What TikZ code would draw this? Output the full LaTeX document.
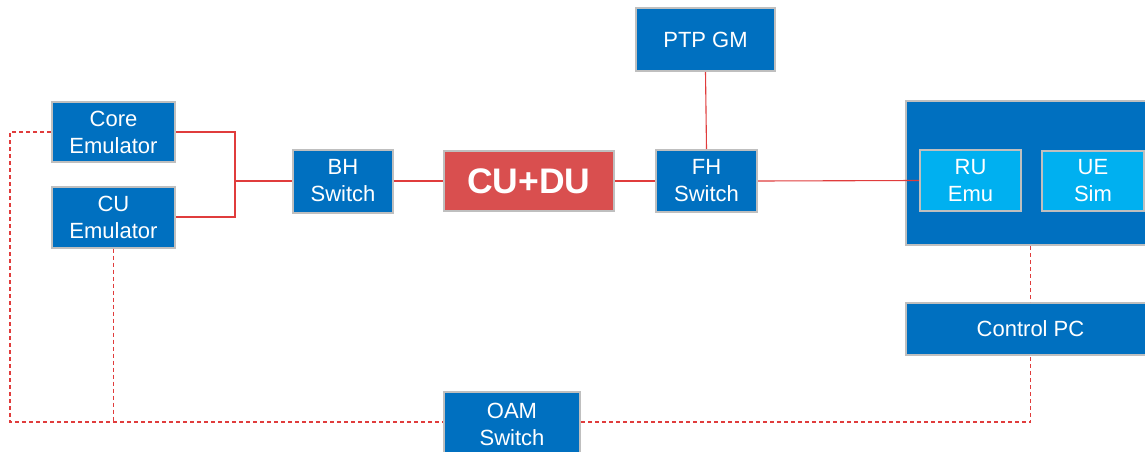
\documentclass[tikz,border=0pt]{standalone}
\usepackage{fontspec}
\setmainfont{Liberation Sans}
\usepackage{tikz}

\definecolor{boxblue}{HTML}{0070C0}
\definecolor{emublue}{HTML}{00B0F0}
\definecolor{duired}{HTML}{D94F4F}
\definecolor{linkred}{HTML}{E03C3C}
\definecolor{rimgray}{HTML}{BFBFBF}

\tikzset{
  unit/.style={draw=rimgray, line width=2pt, fill=boxblue, text=white, align=center,
    inner sep=0pt, font=\fontsize{22}{27}\selectfont},
  emubox/.style={unit, fill=emublue},
  dubox/.style={unit, fill=duired, font=\fontsize{35.5}{40}\selectfont\bfseries},
  link/.style={draw=linkred, line width=1.1pt},
  oamlink/.style={link, dash pattern=on 4pt off 3pt}
}

\begin{document}
\begin{tikzpicture}[x=1pt, y=-1pt]
        \clip (0,0) rectangle (1145,452);
        \fill[white] (0,0) rectangle (1145,452);
        % test bed, left to right
        \node[unit, minimum width=123pt, minimum height=60pt] (core) at (113.5,132) {Core\\Emulator};
        \node[unit, minimum width=123pt, minimum height=61pt] (cuemu) at (113.5,217) {CU\\Emulator};
        \node[unit, minimum width=100pt, minimum height=63pt] (bh) at (343,181) {BH\\Switch};
        \node[dubox, minimum width=170pt, minimum height=60pt] (cudu) at (529,181) {CU+DU};
        \node[unit, minimum width=101pt, minimum height=62pt] (fh) at (706.5,181) {FH\\Switch};
        \node[unit, minimum width=139pt, minimum height=63pt] (ptp) at (705.5,39.5) {PTP GM};
        \node[unit, minimum width=249pt, minimum height=144pt] (tester) at (1030.5,173) {};
        \node[emubox, minimum width=101pt, minimum height=61pt] (ruemu) at (970.5,180.5) {RU\\Emu};
        \node[emubox, minimum width=102pt, minimum height=60pt] (uesim) at (1093,181) {UE\\Sim};
        \node[unit, minimum width=249pt, minimum height=52pt] (ctrlpc) at (1030.5,329) {Control PC};
        \node[unit, minimum width=136pt, minimum height=66pt] (oam) at (512,424.5) {OAM\\Switch};
        % data path
        \coordinate (join) at (235,181);
        \draw[link] (core.east) -| (join);
        \draw[link] (cuemu.east) -| (join);
        \draw[link] (join) -- (bh.west);
        \draw[link] (bh.east) -- (cudu.west);
        \draw[link] (cudu.east) -- (fh.west);
        \draw[link] (fh.east) -- (ruemu.west);
        \draw[link] (ptp.south) -- (fh.north);
        % management network
        \coordinate (corner) at (10,422);
        \draw[oamlink] (core.west) -| (corner) -- (corner -| oam.west);
        \draw[oamlink] (cuemu.south) -- (cuemu.south |- corner);
        \draw[oamlink] (corner -| oam.east) -| (ctrlpc.south);
        \draw[oamlink] (tester.south) -- (ctrlpc.north);
\end{tikzpicture}
\end{document}
